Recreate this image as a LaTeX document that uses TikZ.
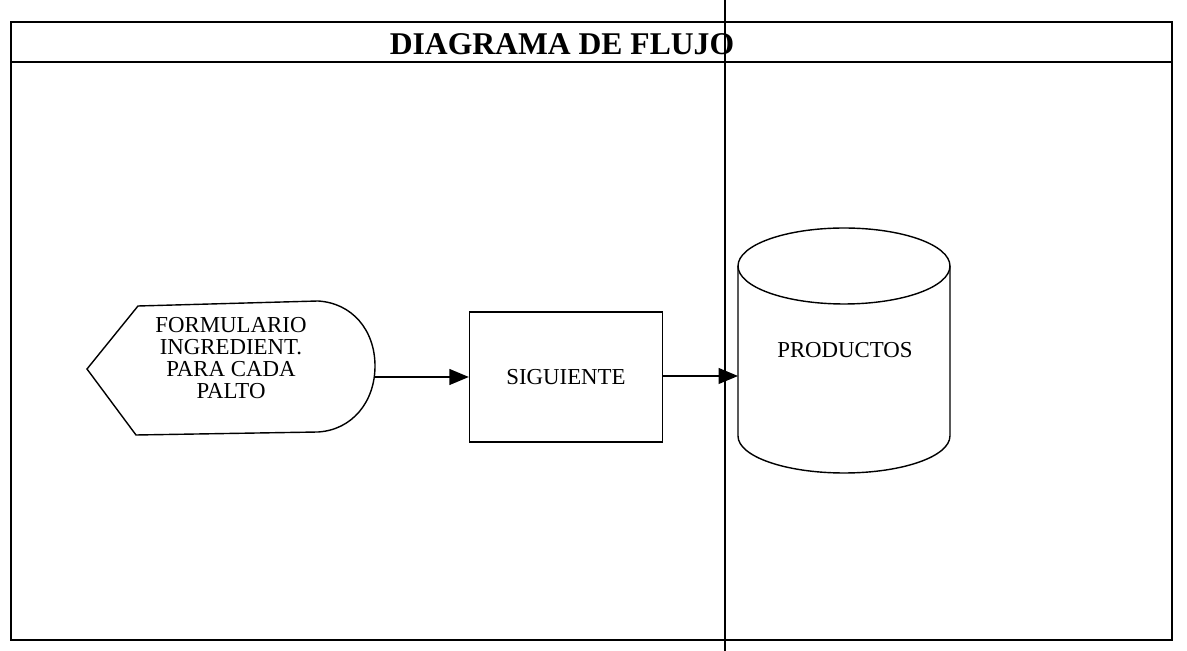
\documentclass[tikz,border=0pt]{standalone}
\usepackage{fontspec}
\setmainfont{Liberation Serif}
\usetikzlibrary{calc,arrows.meta}

\tikzset{
  txt/.style={font=\fontsize{13}{12.5}\selectfont, align=center, inner sep=0pt},
  flecha/.style={line width=0.8pt, -{Triangle[length=11pt,width=9pt]}},
  borde/.style={line width=0.7pt}
}

\begin{document}
\begin{tikzpicture}[x=0.02cm,y=-0.02cm]
   \useasboundingbox (0,0) rectangle (1187,651);
   % marco y titulo
   \draw[borde] (11,22) rectangle (1172,640);
   \draw[borde] (11,62) -- (1172,62);
   \node[font=\fontsize{18}{20}\selectfont\bfseries, inner sep=0pt] (titulo) at (562,44) {DIAGRAMA DE FLUJO};
   % linea vertical
   \coordinate (lineaA) at (725,0);
   \coordinate (lineaB) at (725,651);
   \draw[line width=1pt] (lineaA) -- (lineaB);
   % formulario (pantalla)
   \draw[borde, line width=0.8pt] (87,369) -- (138,306) -- (318,301)
      .. controls (352,303) and (375,330) .. (375,366)
      .. controls (375,402) and (352,430) .. (318,432) -- (136,435) -- cycle;
   \node[txt] (form) at (231,358) {FORMULARIO\\INGREDIENT.\\PARA CADA\\PALTO};
   \coordinate (formE) at (375,377);
   % proceso
   \node[txt, draw, line width=0.8pt, minimum width=3.86cm, minimum height=2.6cm] (sig) at (566,377) {SIGUIENTE};
   % base de datos
   \draw[borde, line width=0.8pt] (844,266) ellipse[x radius=2.12cm, y radius=0.76cm];
   \draw[borde, line width=0.8pt] (738,266) -- (738,436) arc[start angle=180, end angle=360, x radius=2.12cm, y radius=0.74cm] -- (950,266);
   \node[txt] (prod) at (845,350) {PRODUCTOS};
   \coordinate (prodW) at (738,376);
   % conectores
   \draw[flecha] (formE) -- (formE -| sig.west);
   \draw[flecha] (sig.east |- prodW) -- (prodW);
\end{tikzpicture}
\end{document}
